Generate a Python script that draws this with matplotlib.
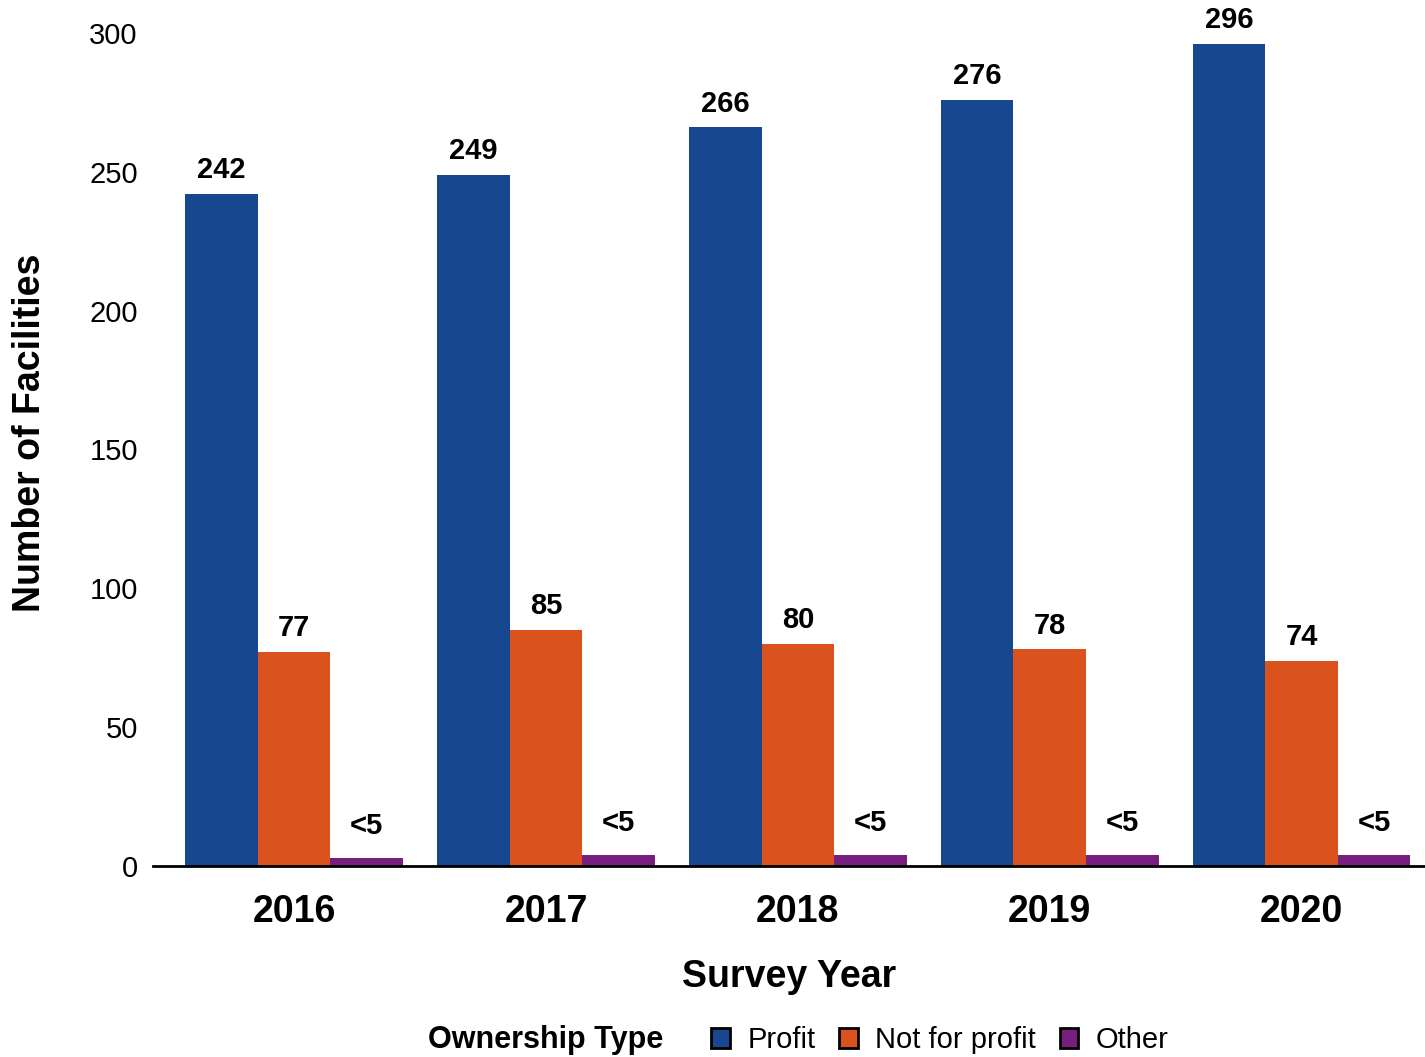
import numpy as np
import matplotlib.pyplot as plt

plt.rcParams['font.family'] = ['Liberation Sans', 'DejaVu Sans']

# data
years = ['2016', '2017', '2018', '2019', '2020']
profit = [242, 249, 266, 276, 296]
not_for_profit = [77, 85, 80, 78, 74]
other = [3, 4, 4, 4, 4]
other_labels = ['<5', '<5', '<5', '<5', '<5']

series_names = ['Profit', 'Not for profit', 'Other']
colors = ['#17478E', '#DA531F', '#761F7E']

fig = plt.figure(figsize=(14.25, 10.57), dpi=100)
ax = fig.add_axes([0.1074, 0.1807, 0.8926, 0.7881])

x = np.arange(len(years))
w = 0.288
series = [profit, not_for_profit, other]
labels = [[str(v) for v in profit], [str(v) for v in not_for_profit], other_labels]

for i, (vals, col, name, labs) in enumerate(zip(series, colors, series_names, labels)):
    pos = x + (i - 1) * w
    bars = ax.bar(pos, vals, width=w, color=col, label=name)
    for b, lab in zip(bars, labs):
        h = b.get_height()
        off = 7 if lab != '<5' else 13
        ax.annotate(lab, (b.get_x() + b.get_width() / 2, h), xytext=(0, off),
                    textcoords='offset points', ha='center', va='bottom',
                    fontsize=21, fontweight='bold', annotation_clip=False)

ax.set_xlim(-0.56, 4.49)
ax.set_ylim(0, 300)
ax.set_yticks([0, 50, 100, 150, 200, 250, 300])
ax.set_xticks(x)
ax.set_xticklabels(years, fontsize=27, fontweight='bold')
ax.tick_params(axis='y', length=0, labelsize=21, pad=11)
ax.tick_params(axis='x', length=0, pad=20)

for s in ['top', 'right', 'left']:
    ax.spines[s].set_visible(False)
ax.spines['bottom'].set_linewidth(2)
ax.spines['bottom'].set_color('black')

ax.set_xlabel('Survey Year', fontsize=27, fontweight='bold', labelpad=21)
ax.set_ylabel('Number of Facilities', fontsize=27, fontweight='bold')
ax.yaxis.set_label_coords(-0.0825, 0.52)

# legend
fig.text(0.3, 0.016, 'Ownership Type', fontsize=22, fontweight='bold', va='center', ha='left')
handles = [plt.Rectangle((0, 0), 1, 1, facecolor=c, edgecolor='black', linewidth=2) for c in colors]
fig.legend(handles, series_names, loc='center left', bbox_to_anchor=(0.499, 0.016), ncol=3,
           frameon=False, fontsize=21, handlelength=0.65, handleheight=0.65,
           handletextpad=0.6, columnspacing=0.8, borderaxespad=0, borderpad=0)

fig.savefig('out.png', dpi=100)
